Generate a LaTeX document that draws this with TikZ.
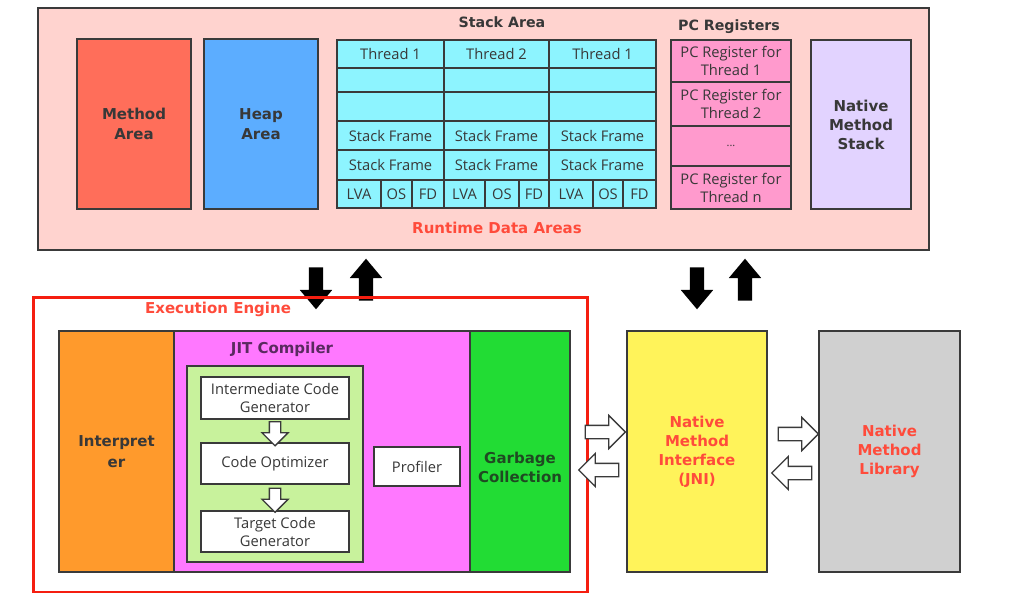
\documentclass[tikz,border=0pt]{standalone}
\usepackage{fontspec}
\setmainfont{Open Sans}
\newfontfamily\bfam{DejaVu Sans}
\usetikzlibrary{shapes.arrows,calc}
\definecolor{bord}{HTML}{3A3A3A}
\definecolor{txt}{HTML}{383838}
\definecolor{redt}{HTML}{FF4B3B}
\definecolor{eered}{HTML}{F51E10}
\definecolor{rdabg}{HTML}{FFD3CF}
\definecolor{methc}{HTML}{FF6E5A}
\definecolor{heapc}{HTML}{5CADFF}
\definecolor{cellc}{HTML}{8DF4FF}
\definecolor{pcc}{HTML}{FF9ACD}
\definecolor{nmsc}{HTML}{E2D3FF}
\definecolor{intc}{HTML}{FF9A2C}
\definecolor{jitc}{HTML}{FF78FF}
\definecolor{inng}{HTML}{C8F29C}
\definecolor{gcc}{HTML}{22DC34}
\definecolor{gctxt}{HTML}{1F4A22}
\definecolor{jnic}{HTML}{FFF35A}
\definecolor{nmlc}{HTML}{D0D0D0}
\definecolor{jittxt}{HTML}{5A2A60}
\tikzset{
  box/.style={draw=bord, line width=1.6pt, inner sep=0pt, outer sep=0pt, align=center, text=txt},
  bt/.style={font=\bfam\bfseries\fontsize{15}{20.5}\selectfont},
  btsmall/.style={font=\bfam\bfseries\fontsize{14.2}{18}\selectfont},
  rt/.style={font=\fontsize{14.7}{18}\selectfont},
  cell/.style={box, rt, fill=cellc},
  whitebox/.style={box, rt, fill=white},
  barrow/.style={single arrow, fill=black, draw=none, inner sep=7pt, minimum width=32pt, single arrow head extend=9pt, single arrow tip angle=80, minimum height=42pt},
  harrow/.style={single arrow, fill=white, draw=bord, line width=1.3pt, inner sep=6pt, minimum width=32pt, single arrow head extend=10pt, minimum height=40pt},
  hsmall/.style={single arrow, fill=white, draw=bord, line width=1.3pt, inner sep=5pt, minimum width=25pt, single arrow head extend=7.5pt, minimum height=24pt},
}
\newcommand\bx[7]{\node[#6, minimum width={(#4)-(#2)}, minimum height={(#5)-(#3)}, anchor=north west] (#1) at (#2,#3) {#7};}
\begin{document}
\begin{tikzpicture}[x=1pt,y=-1pt]
\useasboundingbox (0,0) rectangle (1011,593);
\fill[white] (0,0) rectangle (1011,593);

% Runtime data areas
\bx{rda}{38}{8}{929}{250}{box, fill=rdabg}{}
\node[bt, text=redt] (rdat) at (497,228) {Runtime Data Areas};
\bx{meth}{77}{39}{191}{209}{box, bt, fill=methc}{Method\\Area}
\bx{heap}{204}{39}{318}{209}{box, bt, fill=heapc}{Heap\\Area}

\node[btsmall, text=txt] (sat) at (502,22) {Stack Area};
\foreach \c/\xa/\xb/\xc/\xd/\lbl in {1/337/381/412/444/Thread 1, 2/444/485/519/549/Thread 2, 3/549/593/623/656/Thread 1}{
  \bx{th\c}{\xa}{40}{\xd}{68}{cell}{\lbl}
  \bx{ea\c}{\xa}{68}{\xd}{92}{cell}{}
  \bx{eb\c}{\xa}{92}{\xd}{121}{cell}{}
  \bx{sfa\c}{\xa}{121}{\xd}{150}{cell}{Stack Frame}
  \bx{sfb\c}{\xa}{150}{\xd}{180}{cell}{Stack Frame}
  \bx{lva\c}{\xa}{180}{\xb}{208}{cell}{LVA}
  \bx{os\c}{\xb}{180}{\xc}{208}{cell}{OS}
  \bx{fd\c}{\xc}{180}{\xd}{208}{cell}{FD}
}

\node[btsmall, text=txt] (pct) at (729,27) {PC Registers};
\bx{pc1}{671}{40}{791}{82}{box, rt, fill=pcc}{PC Register for\\Thread 1}
\bx{pc2}{671}{82}{791}{126}{box, rt, fill=pcc}{PC Register for\\Thread 2}
\bx{pc3}{671}{126}{791}{166}{box, rt, fill=pcc, font=\fontsize{11}{13}\selectfont}{...}
\bx{pc4}{671}{166}{791}{209}{box, rt, fill=pcc}{PC Register for\\Thread n}
\bx{nms}{811}{40}{911}{209}{box, bt, fill=nmsc, font=\bfam\bfseries\fontsize{15}{19}\selectfont}{Native\\Method\\Stack}

% black arrows
\node[barrow, shape border rotate=270] (d1) at (316,284) {};
\node[barrow, shape border rotate=90] (u1) at (366,284) {};
\node[barrow, shape border rotate=270] (d2) at (697,284) {};
\node[barrow, shape border rotate=90] (u2) at (745,284) {};

% execution engine
\bx{ee}{32}{296}{586}{591}{draw=eered, line width=2.6pt, inner sep=0pt}{}
\node[bt, text=redt] (eet) at (218,309) {Execution Engine};
\bx{interp}{59}{331}{174}{572}{box, bt, fill=intc}{Interpret\\er}
\bx{jit}{174}{331}{470}{572}{box, fill=jitc}{}
\node[bt, text=jittxt] (jitt) at (282,349) {JIT Compiler};
\bx{inner}{187}{366}{363}{562}{box, fill=inng}{}
\bx{igen}{201}{377}{349}{419}{whitebox}{Intermediate Code\\Generator}
\bx{opt}{201}{443}{349}{484}{whitebox}{Code Optimizer}
\bx{tgen}{201}{511}{349}{552}{whitebox}{Target Code\\Generator}
\bx{prof}{374}{447}{460}{486}{whitebox}{Profiler}
\node[hsmall, shape border rotate=270] (s1) at ($(igen.south)!0.5!(opt.north)$) {};
\node[hsmall, shape border rotate=270] (s2) at ($(opt.south)!0.5!(tgen.north)$) {};
\bx{gc}{470}{331}{570}{572}{box, fill=gcc}{}
\node[bt, text=gctxt, align=center, font=\bfam\bfseries\fontsize{15}{19}\selectfont] (gct) at ($(gc.center)+(0,16)$) {Garbage\\Collection};

% native side
\bx{jni}{627}{331}{767}{572}{box, bt, fill=jnic, text=redt, font=\bfam\bfseries\fontsize{15}{19}\selectfont}{Native\\Method\\Interface\\(JNI)}
\bx{nml}{819}{331}{960}{572}{box, bt, fill=nmlc, text=redt, font=\bfam\bfseries\fontsize{15}{19}\selectfont}{Native\\Method\\Library}

\node[harrow, shape border rotate=0] (r1) at ($(gc.east)!0.5!(jni.west)+(3.5,-19.5)$) {};
\node[harrow, shape border rotate=180] (l1) at ($(gc.east)!0.5!(jni.west)+(3.5,18.5)$) {};
\node[harrow, shape border rotate=0] (r2) at ($(jni.east)!0.5!(nml.west)+(2,-17.5)$) {};
\node[harrow, shape border rotate=180] (l2) at ($(jni.east)!0.5!(nml.west)+(2,21.5)$) {};
\end{tikzpicture}
\end{document}
